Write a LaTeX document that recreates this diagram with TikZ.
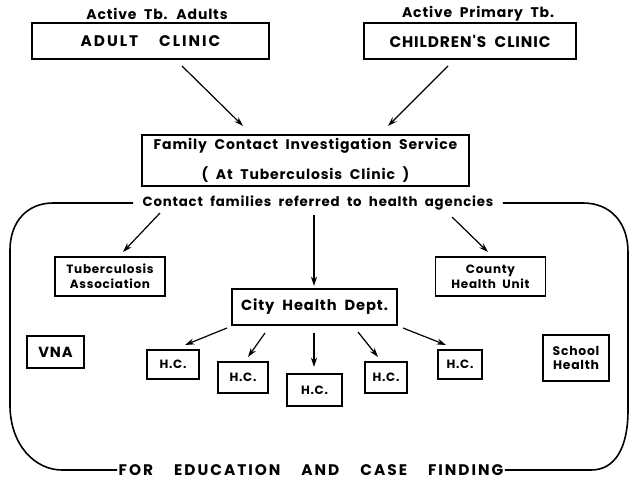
\documentclass[tikz,border=0pt]{standalone}
\usepackage{fontspec}
\setmainfont{Poppins}
\newfontfamily\letterfont{Poppins}[LetterSpace=6, WordSpace=2.0]
\newfontfamily\widefont{Poppins}[LetterSpace=13, WordSpace=2.0]
\usetikzlibrary{arrows.meta}
\begin{document}
\begin{tikzpicture}[x=0.75pt, y=-0.75pt,
  font=\letterfont\bfseries,
  sz/.style 2 args={minimum width=#1*0.75pt, minimum height=#2*0.75pt},
  box/.style={draw, line width=1.2pt, inner sep=0pt, align=center},
  lbl/.style={inner sep=0pt, align=center},
  arr/.style={line width=0.9pt, -{Stealth[length=7pt, width=4.5pt]}},
  frame/.style={line width=1.2pt, line join=round}]
\useasboundingbox (0,0) rectangle (631,481);

% referral sources
\node[lbl, font=\letterfont\bfseries\fontsize{10.5}{12}\selectfont] (lblA) at (157,14) {Active Tb. Adults};
\node[lbl, font=\letterfont\bfseries\fontsize{10.5}{12}\selectfont] (lblC) at (478,14) {Active Primary Tb.};
\node[box, sz={237}{36}, font=\widefont\bfseries\fontsize{11.5}{13}\selectfont] (adult) at (150.5,41) {ADULT\ \ CLINIC};
\node[box, sz={212}{36}, font=\letterfont\bfseries\fontsize{11.5}{13}\selectfont] (child) at (470,41) {CHILDREN'S\ CLINIC};

% central service
\node[box, sz={327}{51}, font=\letterfont\bfseries\fontsize{10.5}{22}\selectfont] (family) at (305.5,160.5)
  {Family Contact Investigation Service\\( At Tuberculosis Clinic )};

\coordinate (aS) at (182,66);  \coordinate (aE) at (243,126);
\coordinate (cS) at (448,66);  \coordinate (cE) at (388,126);
\draw[arr] (aS) -- (aE);
\draw[arr] (cS) -- (cE);

% agencies
\node[lbl, inner xsep=7pt, fill=white, font=\letterfont\bfseries\fontsize{10}{12}\selectfont] (contact) at (318,203)
  {Contact families referred to health agencies};
\node[lbl, inner xsep=1pt, font=\widefont\bfseries\fontsize{11.5}{14}\selectfont] (bottom) at (311,470)
  {FOR\ \ EDUCATION\ \ AND\ \ CASE\ \ FINDING};

\node[box, sz={110}{39}, font=\letterfont\bfseries\fontsize{9}{11}\selectfont] (tba) at (110,276.5) {Tuberculosis\\Association};
\node[box, sz={110}{39}, font=\letterfont\bfseries\fontsize{9}{11}\selectfont] (county) at (490.5,276.5) {County\\Health Unit};
\node[box, sz={165}{36}, font=\letterfont\bfseries\fontsize{11}{13}\selectfont] (city) at (314.5,307) {City Health Dept.};

\node[box, sz={57}{32}, font=\letterfont\bfseries\fontsize{11}{13}\selectfont] (vna) at (55.5,352) {VNA};
\node[box, sz={66}{46}, font=\letterfont\bfseries\fontsize{9.3}{10}\selectfont] (school) at (576,358) {School\\Health};

\node[box, sz={52}{29}, font=\letterfont\bfseries\fontsize{9}{11}\selectfont] (hc1) at (173,364.5) {H.C.};
\node[box, sz={50}{31}, font=\letterfont\bfseries\fontsize{9}{11}\selectfont] (hc2) at (243,377.5) {H.C.};
\node[box, sz={55}{32}, font=\letterfont\bfseries\fontsize{9}{11}\selectfont] (hc3) at (314.5,390) {H.C.};
\node[box, sz={42}{31}, font=\letterfont\bfseries\fontsize{9}{11}\selectfont] (hc4) at (386,377.5) {H.C.};
\node[box, sz={44}{29}, font=\letterfont\bfseries\fontsize{9}{11}\selectfont] (hc5) at (460,364.5) {H.C.};

% arrows from the referral line
\coordinate (tS) at (160,213); \coordinate (tE) at (123,252);
\coordinate (mS) at (314,215); \coordinate (mE) at (314,286);
\coordinate (kS) at (452,217); \coordinate (kE) at (488,252);
\draw[arr] (tS) -- (tE);
\draw[arr] (mS) -- (mE);
\draw[arr] (kS) -- (kE);

% arrows to the health centres
\coordinate (h1S) at (227,328); \coordinate (h1E) at (185,345);
\coordinate (h2S) at (265,333); \coordinate (h2E) at (248,357);
\coordinate (h3S) at (314,333); \coordinate (h3E) at (314,367);
\coordinate (h4S) at (358,332); \coordinate (h4E) at (378,357);
\coordinate (h5S) at (403,328); \coordinate (h5E) at (446,345);
\foreach \i in {1,...,5} \draw[arr] (h\i S) -- (h\i E);

% surrounding frame
\draw[frame] (contact.east) -- (583,203) .. controls (610,203) and (628,222) .. (628,252)
  -- (628,410) .. controls (628,448) and (615,470) .. (591,470) -- (bottom.east);
\draw[frame] (bottom.west) -- (62,470) .. controls (35,470) and (10,445) .. (10,405)
  -- (10,250) .. controls (10,222) and (27,203) .. (53,203) -- (contact.west);
\end{tikzpicture}
\end{document}
